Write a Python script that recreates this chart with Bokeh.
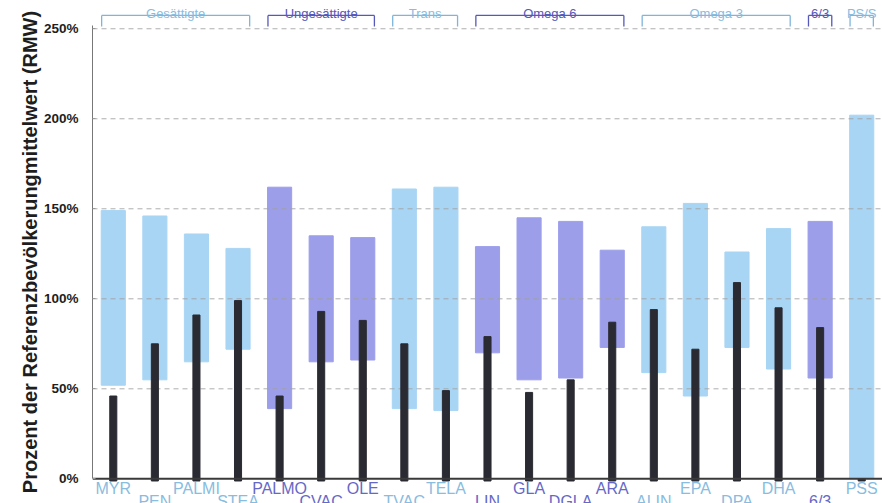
from bokeh.plotting import figure
from bokeh.models import FactorRange, Range1d, FixedTicker, PrintfTickFormatter, ColumnDataSource
from bokeh.core.properties import value
from bokeh.embed import file_html
from bokeh.resources import INLINE

# ---------------- data ----------------
categories = ["MYR", "PEN", "PALMI", "STEA", "PALMO", "CVAC", "OLE", "TVAC", "TELA",
              "LIN", "GLA", "DGLA", "ARA", "ALIN", "EPA", "DPA", "DHA", "6/3", "PSS"]
ref_low = [52, 55, 65, 72, 39, 65, 66, 39, 38, 70, 55, 56, 73, 59, 46, 73, 61, 56, 0]
ref_high = [149, 146, 136, 128, 162, 135, 134, 161, 162, 129, 145, 143, 127, 140, 153, 126, 139, 143, 202]
patient = [46, 75, 91, 99, 46, 93, 88, 75, 49, 79, 48, 55, 87, 94, 72, 109, 95, 84, 0]

group_labels = ["Gesättigte", "Ungesättigte", "Trans", "Omega 6", "Omega 3", "6/3", "PS/S"]
group_first = ["MYR", "PALMO", "TVAC", "LIN", "ALIN", "6/3", "PSS"]
group_last = ["STEA", "OLE", "TELA", "ARA", "DHA", "6/3", "PSS"]

y_ticks = [0, 50, 100, 150, 200, 250]
grid_levels = [50, 100, 150, 200, 250]

# ---------------- styles ----------------
LIGHT_BAR, PURPLE_BAR = "#a8d5f4", "#9c9eea"
LIGHT_TXT, PURPLE_TXT = "#88bce0", "#6668c6"
LIGHT_LINE, PURPLE_LINE = "#7fb5dc", "#5658ba"
BLACK_BAR = "#2a2a32"

cat_group = {}
for gi, (f, l) in enumerate(zip(group_first, group_last)):
    i0, i1 = categories.index(f), categories.index(l)
    for c in categories[i0:i1 + 1]:
        cat_group[c] = gi

bar_colors = [LIGHT_BAR if cat_group[c] % 2 == 0 else PURPLE_BAR for c in categories]
txt_colors = [LIGHT_TXT if cat_group[c] % 2 == 0 else PURPLE_TXT for c in categories]
label_y = [-0.5 if i % 2 == 0 else -7.9 for i in range(len(categories))]

src = ColumnDataSource(dict(cat=categories, low=ref_low, high=ref_high, val=patient,
                            bar_color=bar_colors, txt_color=txt_colors, label_y=label_y))

p = figure(width=882, height=503,
           x_range=FactorRange(factors=categories, range_padding=0),
           y_range=Range1d(-13.7, 265.7),
           output_backend="svg", toolbar_location=None, x_axis_location=None,
           title=None, min_border_left=92, min_border_right=0,
           min_border_top=0, min_border_bottom=0)
p.outline_line_color = None
p.xgrid.visible = False
p.ygrid.visible = False
p.background_fill_color = "white"
p.border_fill_color = "white"

# reference range bars
p.vbar(x="cat", bottom="low", top="high", width=0.58, color="bar_color", source=src)

# dashed grid lines
n = len(grid_levels)
p.segment(x0=[(categories[0], -0.5)] * n, x1=[(categories[-1], 0.5)] * n,
          y0=grid_levels, y1=grid_levels,
          line_color="#a0a0a0", line_dash="5 4", line_width=1, line_alpha=0.85)

# patient values
p.vbar(x="cat", bottom=-1.2, top="val", width=0.17, color=BLACK_BAR, source=src)

# x axis line
p.segment(x0=[(categories[0], -0.5)], x1=[(categories[-1], 0.5)], y0=[0], y1=[0],
          line_color="#3a3a3a", line_width=2)

# category labels (two staggered rows)
p.text(x="cat", y="label_y", text="cat", text_color="txt_color",
       text_font=value("Liberation Sans"), text_font_size="16px",
       text_align="center", text_baseline="top", source=src)

# group brackets at the top
br_y_top, br_y_bot = 257.4, 251.3
for gi, (lab, f, l) in enumerate(zip(group_labels, group_first, group_last)):
    col = LIGHT_LINE if gi % 2 == 0 else PURPLE_LINE
    tcol = LIGHT_TXT if gi % 2 == 0 else PURPLE_LINE
    left, right = (f, -0.28), (l, 0.28)
    p.segment(x0=[left, left, right], x1=[right, left, right],
              y0=[br_y_top, br_y_top, br_y_top], y1=[br_y_top, br_y_bot, br_y_bot],
              line_color=col, line_width=1.3)
    i0, i1 = categories.index(f), categories.index(l)
    mid = (i0 + i1) / 2
    if mid == int(mid):
        xm = (categories[int(mid)], 0.0)
    else:
        xm = (categories[int(mid)], 0.5)
    p.text(x=[xm], y=[258.6], text=[lab], text_color=tcol,
           text_font=value("Liberation Sans"), text_font_size="13px",
           text_align="center", text_baseline="alphabetic")

# y axis
ax = p.yaxis[0]
ax.ticker = FixedTicker(ticks=y_ticks)
ax.formatter = PrintfTickFormatter(format="%d%%")
ax.bounds = (0, 252)
ax.axis_line_color = "#777777"
ax.axis_line_width = 1
ax.major_tick_in = 3
ax.major_tick_out = 0
ax.major_tick_line_color = "#999999"
ax.minor_tick_line_color = None
ax.major_label_standoff = 14
ax.major_label_text_font = "Liberation Sans"
ax.major_label_text_font_style = "bold"
ax.major_label_text_font_size = "13.5px"
ax.major_label_text_color = "#1e1e1e"
ax.axis_label = "Prozent der Referenzbevölkerungmittelwert (RMW)"
ax.axis_label_text_font = "Liberation Sans"
ax.axis_label_text_font_style = "bold"
ax.axis_label_text_font_size = "20px"
ax.axis_label_text_color = "#1e1e1e"
ax.axis_label_standoff = 0

open("out.html", "w").write(file_html(p, INLINE))
